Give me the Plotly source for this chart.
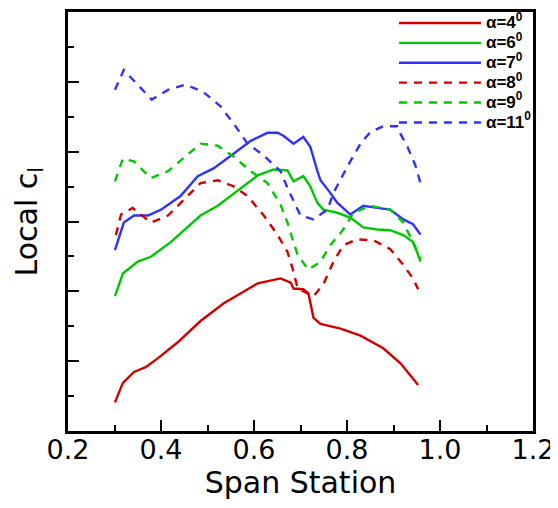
import plotly.graph_objects as go

# Span station (x) and local cl (y) for each angle of attack
x_a4 = [0.301, 0.318, 0.342, 0.367, 0.393, 0.436, 0.485, 0.535, 0.571, 0.608, 0.657, 0.679, 0.685, 0.706, 0.717, 0.728, 0.743, 0.786, 0.829, 0.878, 0.915, 0.953]
y_a4 = [0.082, 0.138, 0.169, 0.183, 0.208, 0.254, 0.315, 0.366, 0.394, 0.423, 0.437, 0.425, 0.408, 0.406, 0.394, 0.324, 0.307, 0.293, 0.273, 0.237, 0.194, 0.132]

x_a6 = [0.301, 0.318, 0.350, 0.378, 0.421, 0.485, 0.522, 0.578, 0.608, 0.642, 0.672, 0.685, 0.706, 0.721, 0.736, 0.749, 0.779, 0.807, 0.835, 0.865, 0.893, 0.921, 0.942, 0.953, 0.958]
y_a6 = [0.386, 0.451, 0.485, 0.499, 0.541, 0.617, 0.645, 0.701, 0.732, 0.749, 0.746, 0.715, 0.730, 0.701, 0.654, 0.634, 0.625, 0.611, 0.583, 0.577, 0.575, 0.561, 0.541, 0.504, 0.485]

x_a7 = [0.301, 0.311, 0.320, 0.342, 0.372, 0.400, 0.442, 0.479, 0.513, 0.556, 0.593, 0.629, 0.651, 0.664, 0.685, 0.706, 0.721, 0.736, 0.743, 0.764, 0.779, 0.807, 0.835, 0.865, 0.893, 0.921, 0.942, 0.958]
y_a7 = [0.518, 0.560, 0.597, 0.617, 0.617, 0.634, 0.673, 0.730, 0.752, 0.794, 0.831, 0.854, 0.854, 0.845, 0.823, 0.842, 0.814, 0.746, 0.718, 0.682, 0.654, 0.620, 0.645, 0.639, 0.634, 0.606, 0.592, 0.563]

x_a8 = [0.303, 0.314, 0.339, 0.378, 0.415, 0.449, 0.485, 0.522, 0.556, 0.586, 0.621, 0.651, 0.672, 0.683, 0.694, 0.728, 0.749, 0.771, 0.792, 0.822, 0.857, 0.893, 0.921, 0.942, 0.953]
y_a8 = [0.561, 0.620, 0.639, 0.597, 0.617, 0.662, 0.710, 0.718, 0.701, 0.673, 0.617, 0.561, 0.513, 0.465, 0.408, 0.386, 0.420, 0.485, 0.532, 0.549, 0.546, 0.521, 0.476, 0.437, 0.406]

x_a9 = [0.301, 0.318, 0.342, 0.378, 0.415, 0.458, 0.485, 0.522, 0.556, 0.593, 0.629, 0.657, 0.672, 0.683, 0.694, 0.717, 0.743, 0.764, 0.792, 0.814, 0.850, 0.893, 0.921, 0.942, 0.958]
y_a9 = [0.715, 0.780, 0.772, 0.724, 0.744, 0.794, 0.823, 0.817, 0.786, 0.744, 0.710, 0.648, 0.597, 0.549, 0.504, 0.462, 0.485, 0.532, 0.577, 0.625, 0.645, 0.634, 0.597, 0.541, 0.493]

x_a11 = [0.301, 0.320, 0.380, 0.415, 0.453, 0.490, 0.528, 0.560, 0.586, 0.621, 0.657, 0.674, 0.700, 0.728, 0.758, 0.771, 0.801, 0.829, 0.850, 0.878, 0.908, 0.915, 0.930, 0.947, 0.958]
y_a11 = [0.977, 1.034, 0.949, 0.977, 0.992, 0.972, 0.930, 0.873, 0.823, 0.789, 0.744, 0.690, 0.617, 0.606, 0.634, 0.682, 0.758, 0.823, 0.856, 0.873, 0.873, 0.851, 0.814, 0.761, 0.710]

alphas = ["4", "6", "7", "8", "9", "11"]
names = ['<span style="font-size:17px">α=%s<sup>0</sup></span>' % a for a in alphas]

RED, GREEN, BLUE = "#d00000", "#00c800", "#3232ff"
series = [
    (x_a4, y_a4, RED, "solid"),
    (x_a6, y_a6, GREEN, "solid"),
    (x_a7, y_a7, BLUE, "solid"),
    (x_a8, y_a8, RED, "8px,7px"),
    (x_a9, y_a9, GREEN, "8px,7px"),
    (x_a11, y_a11, BLUE, "8px,7px"),
]

fig = go.Figure()
for (xs, ys, c, d), n in zip(series, names):
    fig.add_trace(go.Scatter(x=xs, y=ys, mode="lines", name=n,
                             line=dict(color=c, width=2.4, dash=d)))

axis_common = dict(showgrid=False, zeroline=False, showline=True, linecolor="black",
                   linewidth=3, mirror=True, ticks="inside", ticklen=11, tickwidth=2,
                   tickcolor="black", automargin=False)

fig.update_layout(
    width=550, height=500,
    margin=dict(l=60, r=25, t=0, b=77),
    paper_bgcolor="white", plot_bgcolor="white",
    font=dict(family="DejaVu Sans", color="black"),
    xaxis=dict(range=[0.2, 1.2], dtick=0.2, tick0=0.2, tickformat=".1f",
               tickfont=dict(size=27, family="DejaVu Sans"), ticklabelstandoff=-7,
               minor=dict(ticks="inside", ticklen=6, tickwidth=2, dtick=0.1, tickcolor="black"),
               title=dict(text="Span Station", font=dict(size=30, family="DejaVu Sans"), standoff=5),
               **axis_common),
    yaxis=dict(range=[0, 1.2], dtick=0.2, tick0=0, showticklabels=False,
               minor=dict(ticks="inside", ticklen=6, tickwidth=2, dtick=0.1, tickcolor="black"),
               **axis_common),
    legend=dict(x=0.701, y=1.01, xanchor="left", yanchor="top", bgcolor="rgba(0,0,0,0)",
                font=dict(size=13, family="Liberation Sans", color="black", weight="bold"),
                itemwidth=82, tracegroupgap=0),
    annotations=[dict(text="Local c<sub>l</sub>", textangle=-90, xref="paper", yref="paper",
                      x=0, y=0.5, xanchor="center", yanchor="middle", xshift=-40,
                      showarrow=False, font=dict(size=30, family="DejaVu Sans", color="black"))],
)

fig.write_html("out.html")
